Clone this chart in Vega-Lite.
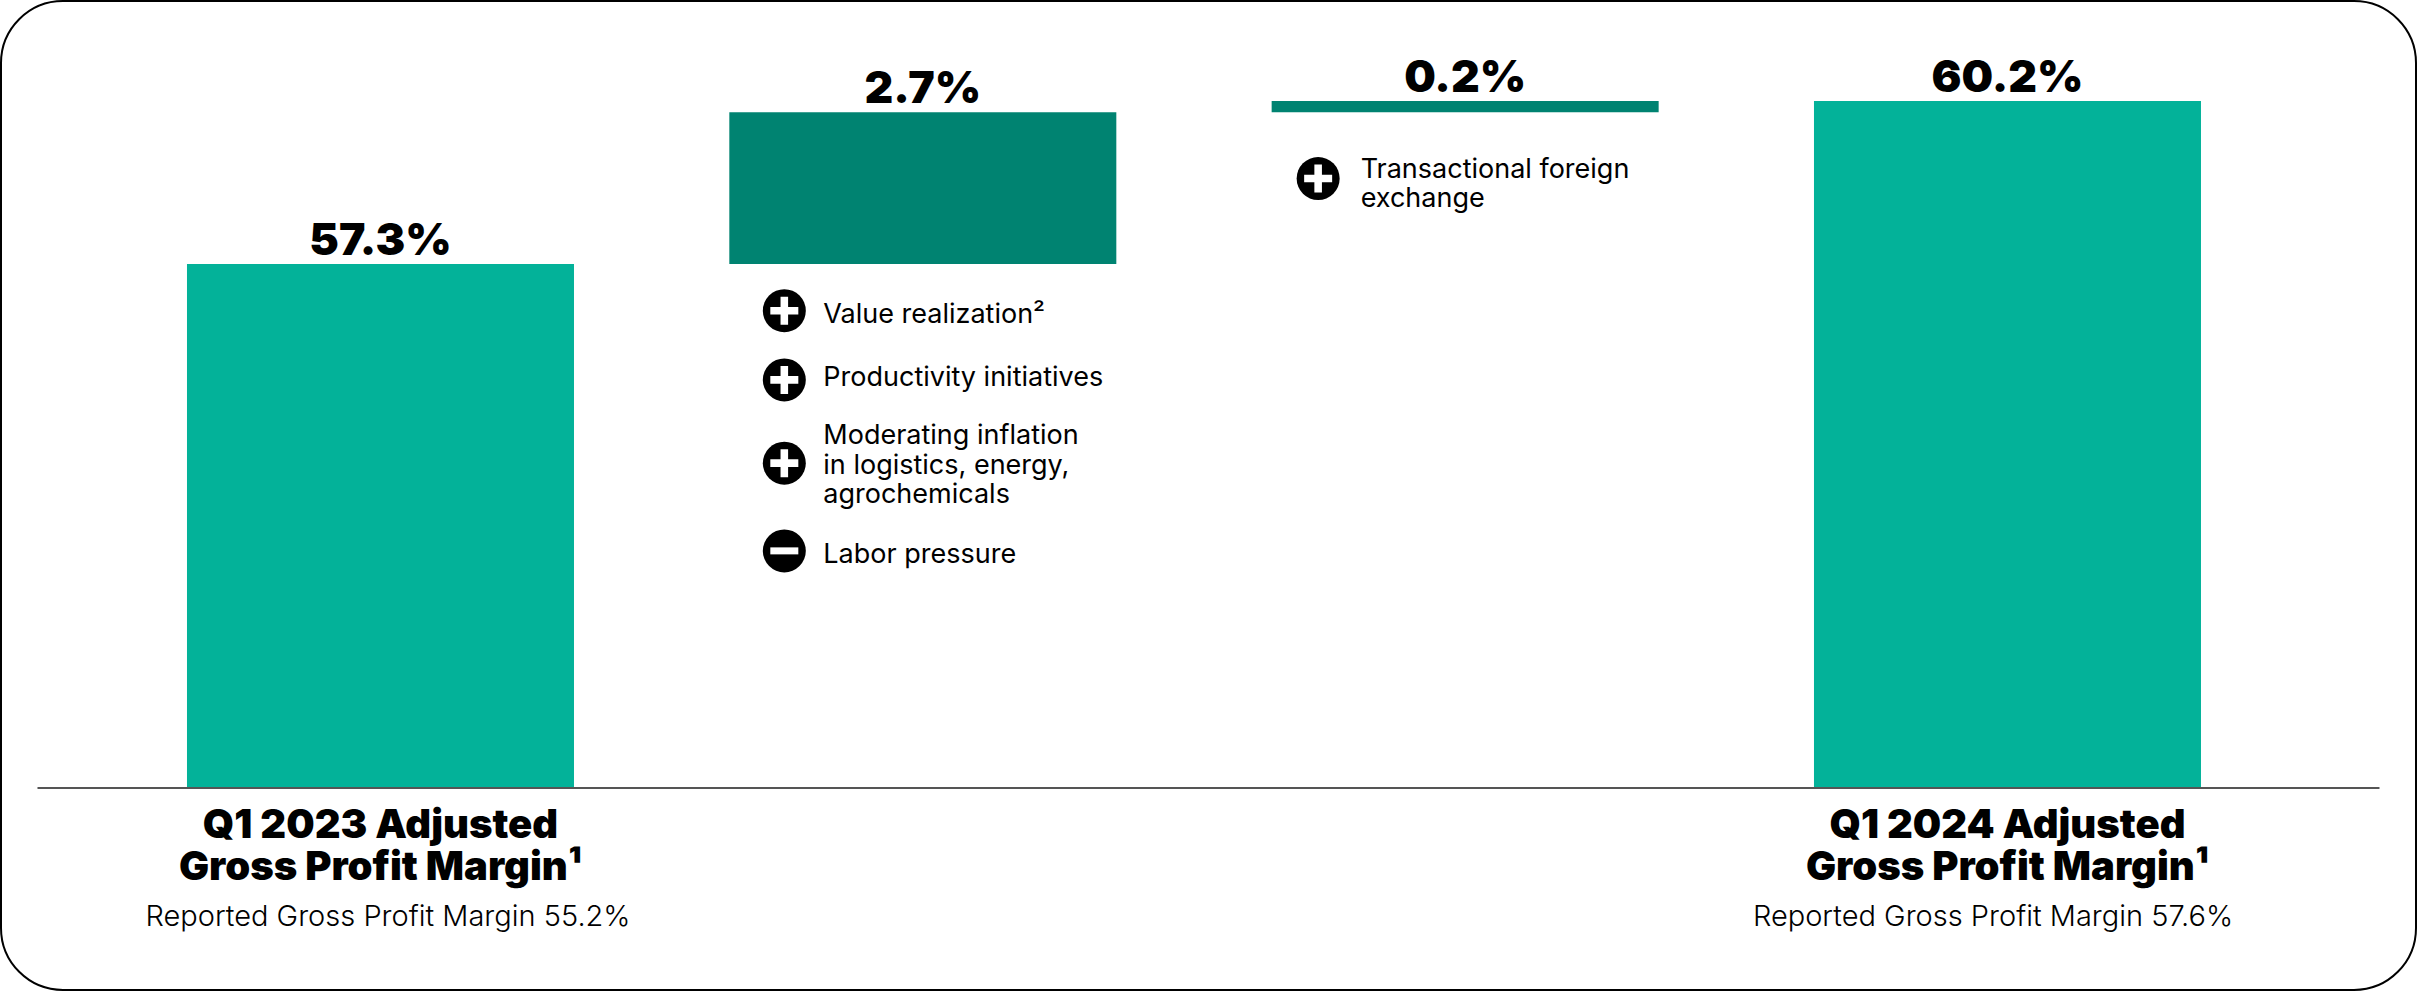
{
  "$schema": "https://vega.github.io/schema/vega-lite/v6.json",
  "width": 2415,
  "height": 989,
  "autosize": {"type": "none"},
  "padding": 1,
  "background": "white",
  "config": {"view": {"stroke": "#000000", "strokeWidth": 2, "cornerRadius": 62}},
  "datasets": {
    "steps": [
      {"step": "Q1 2023", "start": 48, "end": 57.3, "label": "57.3%", "kind": "total", "title": ["Q1 2023 Adjusted", "Gross Profit Margin¹"], "reported": "Reported Gross Profit Margin 55.2%"},
      {"step": "Price and cost", "start": 57.3, "end": 60.0, "label": "2.7%", "kind": "change"},
      {"step": "Foreign exchange", "start": 60.0, "end": 60.2, "label": "0.2%", "kind": "change"},
      {"step": "Q1 2024", "start": 48, "end": 60.2, "label": "60.2%", "kind": "total", "title": ["Q1 2024 Adjusted", "Gross Profit Margin¹"], "reported": "Reported Gross Profit Margin 57.6%"}
    ],
    "drivers": [
      {"step": "Price and cost", "sign": "plus", "driver": ["Value realization²"], "iconLevel": 56.47, "textLevel": 56.25},
      {"step": "Price and cost", "sign": "plus", "driver": ["Productivity initiatives"], "iconLevel": 55.24, "textLevel": 55.13},
      {"step": "Price and cost", "sign": "plus", "driver": ["Moderating inflation", "in logistics, energy,", "agrochemicals"], "iconLevel": 53.76, "textLevel": 54.10},
      {"step": "Price and cost", "sign": "minus", "driver": ["Labor pressure"], "iconLevel": 52.20, "textLevel": 51.98},
      {"step": "Foreign exchange", "sign": "plus", "driver": ["Transactional foreign", "exchange"], "iconLevel": 58.82, "textLevel": 58.83}
    ]
  },
  "encoding": {
    "x": {
      "field": "step",
      "type": "nominal",
      "sort": null,
      "axis": null,
      "scale": {
        "domain": ["Q1 2023", "Price and cost", "Foreign exchange", "Q1 2024"],
        "paddingInner": 0.2864,
        "paddingOuter": 0.3697,
        "align": 0.4638
      }
    }
  },
  "layer": [
    {
      "data": {"name": "steps"},
      "mark": {"type": "bar"},
      "encoding": {
        "y": {"field": "end", "type": "quantitative", "axis": null, "scale": {"domain": [44.393, 61.976], "nice": false, "zero": false}},
        "y2": {"field": "start"},
        "color": {"field": "kind", "type": "nominal", "legend": null, "scale": {"domain": ["total", "change"], "range": ["#03B299", "#008371"]}}
      }
    },
    {
      "data": {"values": [{"floor": 48, "first": "Q1 2023", "last": "Q1 2024"}]},
      "mark": {"type": "rule", "color": "#555555", "strokeWidth": 2, "xOffset": -343, "x2Offset": 372, "yOffset": 1},
      "encoding": {
        "x": {"field": "first", "type": "nominal"},
        "x2": {"field": "last"},
        "y": {"field": "floor", "type": "quantitative"}
      }
    },
    {
      "data": {"name": "steps"},
      "mark": {"type": "text", "font": "Inter", "fontWeight": 900, "fontSize": 44.5, "baseline": "alphabetic", "align": "center", "dy": -9, "color": "#000000"},
      "encoding": {
        "y": {"field": "end", "type": "quantitative"},
        "text": {"field": "label"}
      }
    },
    {
      "data": {"name": "steps"},
      "transform": [{"filter": "datum.kind === 'total'"}],
      "mark": {"type": "text", "font": "Inter", "fontWeight": 900, "fontSize": 40, "lineHeight": 42, "baseline": "alphabetic", "align": "center", "dy": 51, "color": "#000000"},
      "encoding": {
        "y": {"field": "start", "type": "quantitative"},
        "text": {"field": "title"}
      }
    },
    {
      "data": {"name": "steps"},
      "transform": [{"filter": "datum.step === 'Q1 2023'"}],
      "mark": {"type": "text", "font": "Inter", "fontWeight": 300, "fontSize": 29, "baseline": "alphabetic", "align": "center", "dx": 7.5, "dy": 139, "color": "#000000"},
      "encoding": {
        "y": {"field": "start", "type": "quantitative"},
        "text": {"field": "reported"}
      }
    },
    {
      "data": {"name": "steps"},
      "transform": [{"filter": "datum.step === 'Q1 2024'"}],
      "mark": {"type": "text", "font": "Inter", "fontWeight": 300, "fontSize": 29, "baseline": "alphabetic", "align": "center", "dx": -14.5, "dy": 139, "color": "#000000"},
      "encoding": {
        "y": {"field": "start", "type": "quantitative"},
        "text": {"field": "reported"}
      }
    },
    {
      "data": {"name": "drivers"},
      "transform": [{"filter": "datum.step === 'Price and cost'"}],
      "mark": {"type": "point", "shape": "circle", "filled": true, "color": "#000000", "size": 1849, "opacity": 1, "xOffset": -138.5},
      "encoding": {"y": {"field": "iconLevel", "type": "quantitative"}}
    },
    {
      "data": {"name": "drivers"},
      "transform": [{"filter": "datum.step === 'Price and cost'"}],
      "mark": {"type": "point", "filled": true, "color": "#FFFFFF", "size": 784, "opacity": 1, "xOffset": -138.5},
      "encoding": {
        "y": {"field": "iconLevel", "type": "quantitative"},
        "shape": {"field": "sign", "type": "nominal", "legend": null, "scale": {"domain": ["plus", "minus"], "range": ["M-1,-0.27H-0.27V-1H0.27V-0.27H1V0.27H0.27V1H-0.27V0.27H-1Z", "M-1,-0.25H1V0.25H-1Z"]}}
      }
    },
    {
      "data": {"name": "drivers"},
      "transform": [{"filter": "datum.step === 'Foreign exchange'"}],
      "mark": {"type": "point", "shape": "circle", "filled": true, "color": "#000000", "size": 1849, "opacity": 1, "xOffset": -147},
      "encoding": {"y": {"field": "iconLevel", "type": "quantitative"}}
    },
    {
      "data": {"name": "drivers"},
      "transform": [{"filter": "datum.step === 'Foreign exchange'"}],
      "mark": {"type": "point", "filled": true, "color": "#FFFFFF", "size": 784, "opacity": 1, "xOffset": -147},
      "encoding": {
        "y": {"field": "iconLevel", "type": "quantitative"},
        "shape": {"field": "sign", "type": "nominal", "legend": null}
      }
    },
    {
      "data": {"name": "drivers"},
      "transform": [{"filter": "datum.step === 'Price and cost'"}],
      "mark": {"type": "text", "font": "Inter", "fontWeight": 400, "fontSize": 27, "lineHeight": 29.5, "baseline": "alphabetic", "align": "left", "dx": -99.5, "color": "#000000"},
      "encoding": {
        "y": {"field": "textLevel", "type": "quantitative"},
        "text": {"field": "driver"}
      }
    },
    {
      "data": {"name": "drivers"},
      "transform": [{"filter": "datum.step === 'Foreign exchange'"}],
      "mark": {"type": "text", "font": "Inter", "fontWeight": 400, "fontSize": 27, "lineHeight": 29.5, "baseline": "alphabetic", "align": "left", "dx": -104.5, "color": "#000000"},
      "encoding": {
        "y": {"field": "textLevel", "type": "quantitative"},
        "text": {"field": "driver"}
      }
    }
  ]
}
